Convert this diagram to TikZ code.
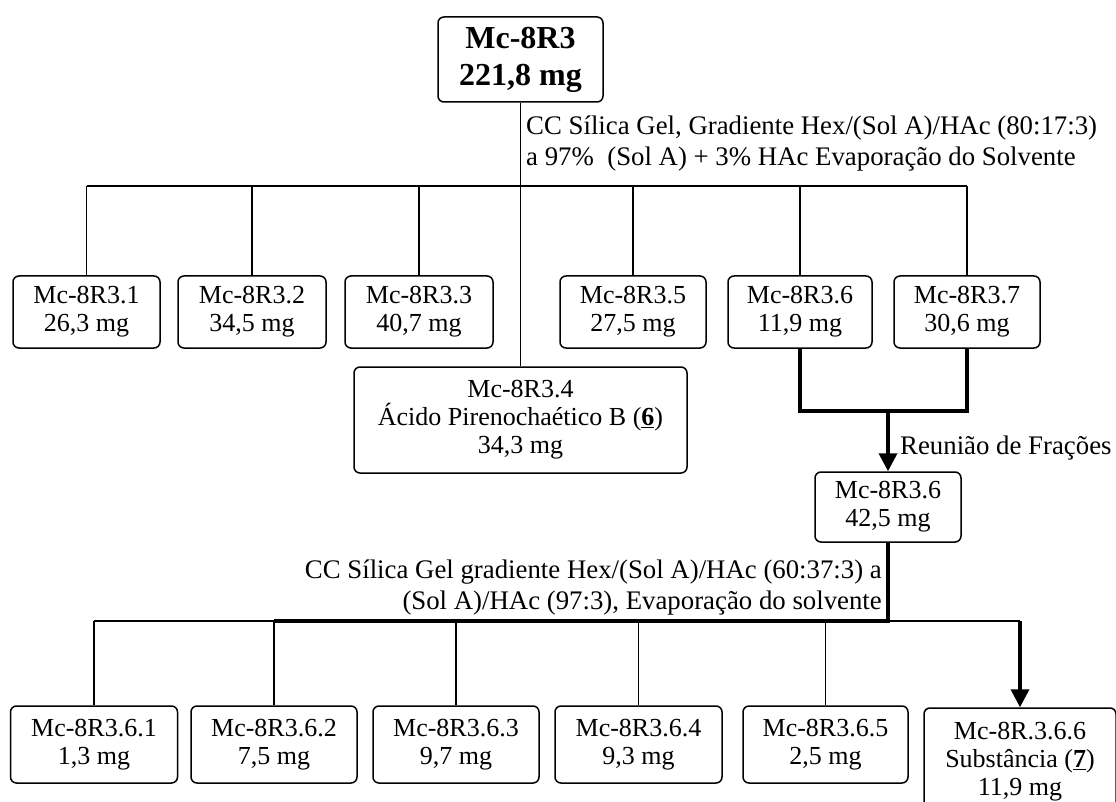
\documentclass[tikz,border=0pt]{standalone}
\usepackage{fontspec}
\setmainfont{Liberation Serif}
\usetikzlibrary{arrows.meta}

\begin{document}
\begin{tikzpicture}[x=1pt,y=-1pt,
  box/.style={draw, line width=1.5pt, rounded corners=6pt, minimum width=146pt,
              minimum height=72pt, align=center, inner sep=0pt,
              font=\fontsize{26}{28}\selectfont},
  lbl/.style={inner sep=0pt, font=\fontsize{26.8}{31}\selectfont},
  thinline/.style={line width=1.6pt},
  thickline/.style={line width=3.6pt},
  arr/.style={-{Triangle[width=18pt,length=18pt]}}
]
\useasboundingbox (0,0) rectangle (1116,802);

% starting material
\node[box, font=\bfseries\fontsize{32}{37}\selectfont, minimum width=165pt,
      minimum height=85pt] (top) at (520.5,59.5) {Mc-8R3\\221,8 mg};

\node[lbl, align=left, anchor=west] (lab1) at (526,144)
  {CC Sílica Gel, Gradiente Hex/(Sol A)/HAc (80:17:3)\\a 97\%~ (Sol A) + 3\% HAc Evaporação do Solvente};

% first column fractions
\node[box, minimum width=147pt] (r1) at (86.5,312) {Mc-8R3.1\\26,3 mg};
\node[box, minimum width=148pt] (r2) at (252,312) {Mc-8R3.2\\34,5 mg};
\node[box, minimum width=148pt] (r3) at (419,312) {Mc-8R3.3\\40,7 mg};
\node[box, minimum width=333pt, minimum height=106pt] (r4) at (520.5,420)
  {Mc-8R3.4\\Ácido Pirenochaético B (\underline{\textbf{6}})\\34,3 mg};
\node[box] (r5) at (633,312) {Mc-8R3.5\\27,5 mg};
\node[box, minimum width=144pt] (r6) at (800,312) {Mc-8R3.6\\11,9 mg};
\node[box] (r7) at (967,312) {Mc-8R3.7\\30,6 mg};

\coordinate (bus1) at (0,186);
\draw[thinline] (r1.north |- bus1) -- (r7.north |- bus1);
\foreach \n in {r1,r2,r3,r5,r6,r7}
  \draw[thinline] (\n.north |- bus1) -- (\n.north);
\draw[thinline] (top.south) -- (r4.north);

% pooled fractions
\node[box, minimum height=70pt] (r8) at (888,507) {Mc-8R3.6\\42,5 mg};
\coordinate (m) at (888,411);
\draw[thickline] (r6.south) |- (m) -| (r7.south);
\draw[thickline, arr] (m) -- (r8.north);
\node[lbl, anchor=west] (lab2) at (900,448) {Reunião de Frações};

\node[lbl, align=right, anchor=east] (lab3) at (882,588)
  {CC Sílica Gel gradiente Hex/(Sol A)/HAc (60:37:3) a\\(Sol A)/HAc (97:3), Evaporação do solvente};

% second column fractions
\node[box, minimum width=167pt, minimum height=77pt] (s1) at (94,744.5) {Mc-8R3.6.1\\1,3 mg};
\node[box, minimum width=166pt, minimum height=77pt] (s2) at (274,744.5) {Mc-8R3.6.2\\7,5 mg};
\node[box, minimum width=166pt, minimum height=77pt] (s3) at (456,744.5) {Mc-8R3.6.3\\9,7 mg};
\node[box, minimum width=167pt, minimum height=77pt] (s4) at (638.5,744.5) {Mc-8R3.6.4\\9,3 mg};
\node[box, minimum width=165pt, minimum height=77pt] (s5) at (825.5,744.5) {Mc-8R3.6.5\\2,5 mg};
\node[box, minimum width=192pt, minimum height=107pt] (s6) at (1020,761.5)
  {Mc-8R.3.6.6\\Substância (\underline{\textbf{7}})\\11,9 mg};

\coordinate (bus2) at (0,621);
\draw[thinline] (s1.north |- bus2) -- (s6.north |- bus2);
\foreach \n in {s1,s2,s3,s4,s5}
  \draw[thinline] (\n.north |- bus2) -- (\n.north);
\draw[thickline] (r8.south) -- (r8.south |- bus2) -- (s2.north |- bus2);
\draw[thickline, arr] (s6.north |- bus2) -- (s6.north);
\end{tikzpicture}
\end{document}
